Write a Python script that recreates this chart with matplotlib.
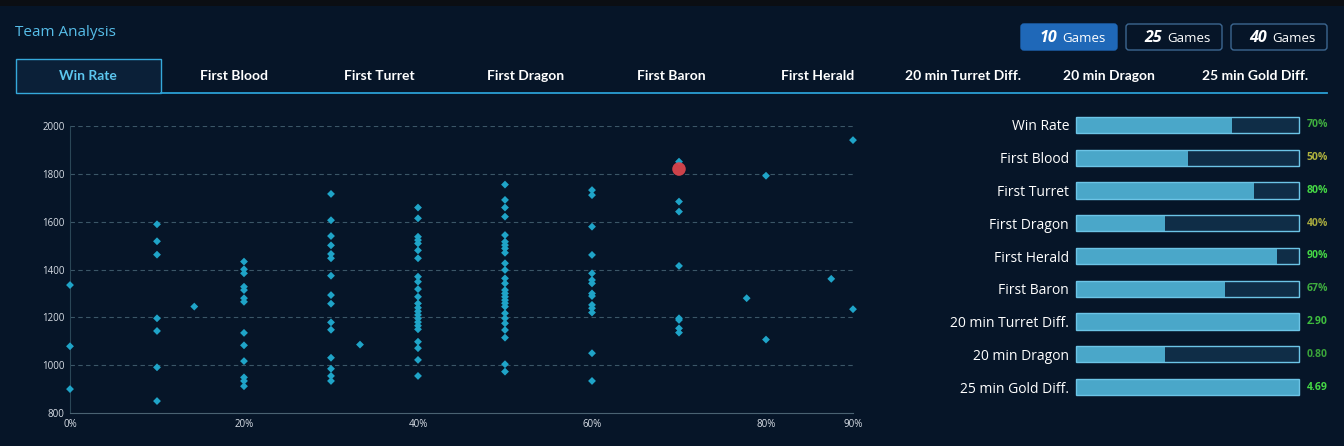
import matplotlib
matplotlib.use('Agg')
import matplotlib.pyplot as plt
from matplotlib.patches import Rectangle, FancyBboxPatch
import numpy as np

plt.rcParams['font.family'] = ['Open Sans', 'DejaVu Sans']

BG = '#061528'

# ---- data ----
tabs = ['Win Rate', 'First Blood', 'First Turret', 'First Dragon', 'First Baron',
        'First Herald', '20 min Turret Diff.', '20 min Dragon', '25 min Gold Diff.']
games = ['10', '25', '40']

# scatter: win rate column -> values
col_rates = [0.0, 0.1, 1 / 7, 0.2, 0.3, 1 / 3, 0.4, 0.5, 0.6, 0.7, 7 / 9, 0.8, 7 / 8, 0.9]
col_values = [
    [1335, 1079, 900],
    [1589, 1518, 1462, 1196, 1143, 991, 850],
    [1245],
    [1433, 1401, 1384, 1328, 1314, 1280, 1265, 1135, 1083, 1017, 949, 934, 912],
    [1716, 1606, 1540, 1501, 1465, 1447, 1374, 1293, 1257, 1179, 1148, 1031, 985, 955, 934],
    [1086],
    [1659, 1614, 1537, 1523, 1509, 1480, 1447, 1370, 1349, 1318, 1286, 1258, 1240, 1225,
     1210, 1195, 1180, 1165, 1150, 1098, 1071, 1022, 955],
    [1755, 1691, 1659, 1621, 1544, 1516, 1502, 1488, 1470, 1426, 1398, 1363, 1342, 1314,
     1300, 1286, 1272, 1259, 1245, 1217, 1196, 1175, 1147, 1115, 1004, 973],
    [1732, 1711, 1579, 1461, 1384, 1356, 1342, 1300, 1289, 1252, 1238, 1220, 1050, 934],
    [1851, 1684, 1642, 1415, 1196, 1189, 1154, 1136],
    [1280],
    [1792, 1107],
    [1361],
    [1941, 1234],
]
team_rate = 0.7
team_value = 1820

x_ticks = [0, 0.2, 0.4, 0.6, 0.8, 0.9]
y_ticks = [800, 1000, 1200, 1400, 1600, 1800, 2000]

# right side bars
bar_labels = ['Win Rate', 'First Blood', 'First Turret', 'First Dragon', 'First Herald',
              'First Baron', '20 min Turret Diff.', '20 min Dragon', '25 min Gold Diff.']
bar_fill = [0.70, 0.50, 0.80, 0.40, 0.90, 0.67, 1.0, 0.40, 1.0]
bar_text = ['70%', '50%', '80%', '40%', '90%', '67%', '2.90', '0.80', '4.69']
bar_text_colors = ['#3fae3f', '#b0b23e', '#45d845', '#a8aa3e', '#45d845',
                   '#3fae3f', '#3fbf3f', '#3aa43a', '#45d845']

xs = np.concatenate([[r] * len(v) for r, v in zip(col_rates, col_values)])
ys = np.concatenate(col_values)

# ---- figure ----
fig = plt.figure(figsize=(13.44, 4.46), dpi=100, facecolor=BG)

# background / UI layer in pixel coordinates
ui = fig.add_axes([0, 0, 1, 1])
ui.set_xlim(0, 1344)
ui.set_ylim(446, 0)
ui.axis('off')
ui.add_patch(Rectangle((0, 0), 1344, 6, facecolor='#0b0e13', edgecolor='none'))

ui.text(15, 33, 'Team Analysis', fontsize=11, color='#56bde8', va='center', ha='left')

# game buttons
btn_x = [1021, 1126, 1231]
for i, (g, bx) in enumerate(zip(games, btn_x)):
    active = i == 0
    ui.add_patch(FancyBboxPatch((bx, 24), 96, 26, boxstyle='round,pad=0,rounding_size=3',
                                facecolor='#1f68b8' if active else 'none',
                                edgecolor='#1f68b8' if active else '#3c6690', linewidth=1))
    ui.text(bx + 36, 37.5, g, fontsize=11.5, fontweight='bold', style='italic',
            color='white', ha='right', va='center')
    ui.text(bx + 41, 38, 'Games', fontsize=9.5, color='white', ha='left', va='center')

# tabs
ui.add_patch(Rectangle((16, 59), 145, 34, facecolor='#0b2038', edgecolor='#35a9db', linewidth=1))
ui.plot([161, 1327], [93, 93], color='#2a9fd4', linewidth=1.3)
for i, t in enumerate(tabs):
    cx = 88 + i * 145.9
    ui.text(cx, 76, t, fontsize=10, fontweight='bold', family=['Lato', 'DejaVu Sans'],
            color='#5cc6ee' if i == 0 else 'white', ha='center', va='center')

# ---- scatter ----
ax = fig.add_axes([70 / 1344, 1 - 413 / 446, (853 - 70) / 1344, (413 - 126) / 446])
ax.set_facecolor('none')
ax.set_xlim(0, 0.9)
ax.set_ylim(800, 2000)
for yv in y_ticks[1:]:
    ax.axhline(yv, color='#3b5667', linewidth=0.8, linestyle=(0, (4, 3)), zorder=1)
ax.scatter(xs, ys, marker='D', s=16, color='#1fa4c8', edgecolor='none', zorder=3,
           clip_on=False)
ax.scatter([team_rate], [team_value], s=95, color='#d9454c', edgecolor='none', zorder=4,
           alpha=0.95)
ax.set_xticks(x_ticks)
ax.set_xticklabels([f'{int(round(v * 100))}%' for v in x_ticks])
ax.set_yticks(y_ticks)
ax.tick_params(colors='#d8dee6', labelsize=7, length=0, pad=4)
for s in ['top', 'right']:
    ax.spines[s].set_visible(False)
ax.spines['left'].set_color('#2a4656')
ax.spines['bottom'].set_color('#4a6272')

# ---- horizontal bars ----
bx0, bx1 = 1076, 1299
row_top, row_bot = 125 - 16.4, 387 + 16.4
bax = fig.add_axes([bx0 / 1344, 1 - row_bot / 446, (bx1 - bx0) / 1344, (row_bot - row_top) / 446])
bax.set_facecolor('none')
bax.set_xlim(0, 1)
bax.set_ylim(len(bar_labels) - 0.5, -0.5)
rows = np.arange(len(bar_labels))
bax.barh(rows, [1] * len(rows), height=0.5, color='#0f2d47', edgecolor='none')
bax.barh(rows, bar_fill, height=0.5, color='#4aa7c9', edgecolor='none')
outline = bax.barh(rows, [1] * len(rows), height=0.5, color='none', edgecolor='#6cc4e6',
                   linewidth=1)
for p in outline:
    p.set_clip_on(False)
bax.set_yticks(rows)
bax.set_yticklabels(bar_labels)
bax.tick_params(axis='y', colors='white', labelsize=10, length=0, pad=5)
bax.set_xticks([])
for s in bax.spines.values():
    s.set_visible(False)
for r, t, c in zip(rows, bar_text, bar_text_colors):
    bax.text(1.035, r, t, fontsize=7.5, fontweight='bold', color=c, va='center', ha='left',
             transform=bax.get_yaxis_transform())

fig.savefig('out.png', dpi=100, facecolor=BG)
